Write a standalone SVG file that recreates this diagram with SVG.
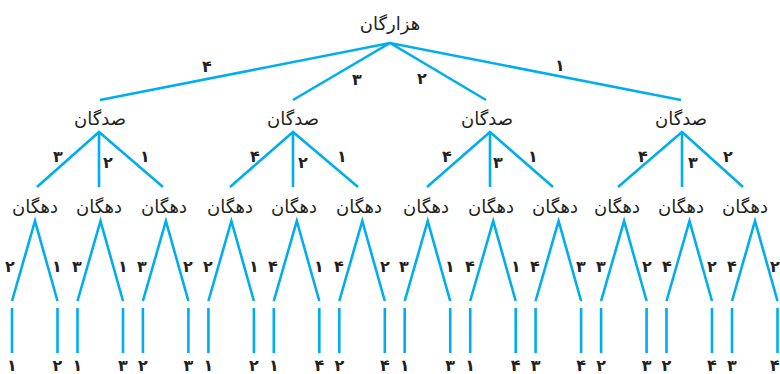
<svg xmlns="http://www.w3.org/2000/svg" width="780" height="374" viewBox="0 0 780 374">
<style>
.e{stroke:#00aeef;stroke-width:2.6;fill:none;stroke-linecap:butt;stroke-linejoin:miter}
.t{font-family:"DejaVu Sans","Noto Sans",sans-serif;font-size:18px;fill:#231f20;text-anchor:middle}
.n{font-family:"DejaVu Sans","Noto Sans",sans-serif;font-size:16px;font-weight:bold;fill:#231f20;text-anchor:middle}
</style>
<rect width="780" height="374" fill="#fff"/>
<g id="connectors">
<path class="e" d="M100,100L390,43L681,100M293,100L390,43L486,100"/>
<path class="e" d="M37,187L99,132L163,187M99,132V187"/>
<path class="e" d="M230,187L293,132L358,187M293,132V187"/>
<path class="e" d="M427,187L490,132L553,187M490,132V187"/>
<path class="e" d="M618,187L682,132L743,187M682,132V187"/>
<path class="e" d="M12,301L35,221L57.5,301M77.5,301L100.5,221L123,301M142.9,301L165.9,221L188.4,301M208.4,301L231.4,221L253.9,301M273.8,301L296.8,221L319.3,301M339.3,301L362.3,221L384.8,301M404.7,301L427.7,221L450.2,301M470.2,301L493.2,221L515.7,301M535.6,301L558.6,221L581.1,301M601.1,301L624.1,221L646.6,301M666.5,301L689.5,221L712,301M732,301L755,221L777.5,301"/>
<path class="e" d="M12,308V353M57.5,308V353M77.5,308V353M123,308V353M142.9,308V353M188.4,308V353M208.4,308V353M253.9,308V353M273.8,308V353M319.3,308V353M339.3,308V353M384.8,308V353M404.7,308V353M450.2,308V353M470.2,308V353M515.7,308V353M535.6,308V353M581.1,308V353M601.1,308V353M646.6,308V353M666.5,308V353M712,308V353M732,308V353M777.5,308V353"/>
</g>
<g id="root"><text class="t" x="390" y="30">هزارگان</text></g>
<g id="s1"><text class="t" x="100" y="125">صدگان</text></g>
<g id="s2"><text class="t" x="293" y="125">صدگان</text></g>
<g id="s3"><text class="t" x="487" y="125">صدگان</text></g>
<g id="s4"><text class="t" x="681" y="125">صدگان</text></g>
<g id="d1"><text class="t" x="35" y="213">دهگان</text></g>
<g id="d2"><text class="t" x="99" y="213">دهگان</text></g>
<g id="d3"><text class="t" x="164" y="213">دهگان</text></g>
<g id="d4"><text class="t" x="230" y="213">دهگان</text></g>
<g id="d5"><text class="t" x="294" y="213">دهگان</text></g>
<g id="d6"><text class="t" x="359" y="213">دهگان</text></g>
<g id="d7"><text class="t" x="426" y="213">دهگان</text></g>
<g id="d8"><text class="t" x="491" y="213">دهگان</text></g>
<g id="d9"><text class="t" x="555" y="213">دهگان</text></g>
<g id="d10"><text class="t" x="617" y="213">دهگان</text></g>
<g id="d11"><text class="t" x="681" y="213">دهگان</text></g>
<g id="d12"><text class="t" x="745" y="213">دهگان</text></g>
<g id="edge-labels">
<text class="n" x="207" y="72">۴</text>
<text class="n" x="357" y="85">۳</text>
<text class="n" x="422" y="84">۲</text>
<text class="n" x="560" y="71">۱</text>
<text class="n" x="58" y="162">۳</text><text class="n" x="108" y="168">۲</text><text class="n" x="145" y="162">۱</text>
<text class="n" x="255" y="162">۴</text><text class="n" x="303" y="168">۲</text><text class="n" x="342" y="162">۱</text>
<text class="n" x="447" y="162">۴</text><text class="n" x="498" y="168">۳</text><text class="n" x="533" y="162">۱</text>
<text class="n" x="643" y="162">۴</text><text class="n" x="693" y="168">۳</text><text class="n" x="728" y="162">۲</text>
<text class="n" x="10" y="272">۲</text><text class="n" x="57" y="272">۱</text>
<text class="n" x="77" y="272">۳</text><text class="n" x="123" y="272">۱</text>
<text class="n" x="142" y="272">۳</text><text class="n" x="188" y="272">۲</text>
<text class="n" x="208" y="272">۲</text><text class="n" x="254" y="272">۱</text>
<text class="n" x="273" y="272">۴</text><text class="n" x="319" y="272">۱</text>
<text class="n" x="339" y="272">۴</text><text class="n" x="385" y="272">۲</text>
<text class="n" x="404" y="272">۳</text><text class="n" x="450" y="272">۱</text>
<text class="n" x="470" y="272">۴</text><text class="n" x="516" y="272">۱</text>
<text class="n" x="535" y="272">۴</text><text class="n" x="581" y="272">۳</text>
<text class="n" x="601" y="272">۳</text><text class="n" x="647" y="272">۲</text>
<text class="n" x="667" y="272">۴</text><text class="n" x="712" y="272">۲</text>
<text class="n" x="732" y="272">۴</text><text class="n" x="775" y="272">۲</text>
</g>
<g id="leaves">
<text class="n" x="12" y="371">۱</text><text class="n" x="57.5" y="371">۲</text>
<text class="n" x="77.5" y="371">۱</text><text class="n" x="123" y="371">۳</text>
<text class="n" x="142.9" y="371">۲</text><text class="n" x="188.4" y="371">۳</text>
<text class="n" x="208.4" y="371">۱</text><text class="n" x="253.9" y="371">۲</text>
<text class="n" x="273.8" y="371">۱</text><text class="n" x="319.3" y="371">۴</text>
<text class="n" x="339.3" y="371">۲</text><text class="n" x="384.8" y="371">۴</text>
<text class="n" x="404.7" y="371">۱</text><text class="n" x="450.2" y="371">۳</text>
<text class="n" x="470.2" y="371">۱</text><text class="n" x="515.7" y="371">۴</text>
<text class="n" x="535.6" y="371">۳</text><text class="n" x="581.1" y="371">۴</text>
<text class="n" x="601.1" y="371">۲</text><text class="n" x="646.6" y="371">۳</text>
<text class="n" x="666.5" y="371">۲</text><text class="n" x="712" y="371">۴</text>
<text class="n" x="732" y="371">۳</text><text class="n" x="775" y="371">۴</text>
</g>
</svg>
